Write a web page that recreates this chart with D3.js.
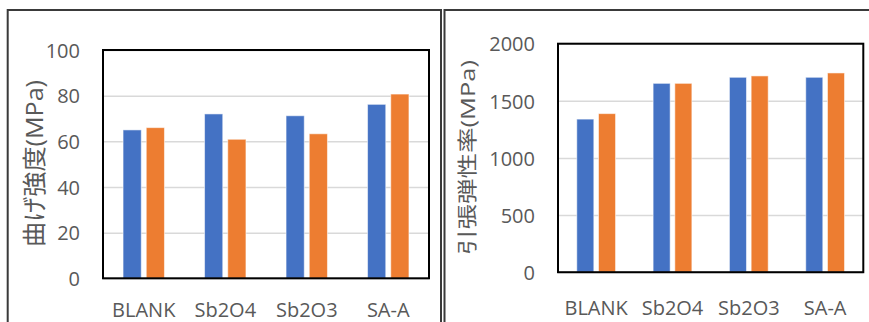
<!DOCTYPE html>
<html>
<head>
<meta charset="utf-8">
<script src="https://cdn.jsdelivr.net/npm/d3@7"></script>
<style>
  html, body { margin: 0; padding: 0; background: #fff; }
  svg { display: block; }
  text { font-family: "Open Sans", "Noto Sans CJK JP", sans-serif; fill: #595959; }
</style>
</head>
<body>
<script>
// Sample names shared by both panels
const categories = ["BLANK", "Sb2O4", "Sb2O3", "SA-A"];
const seriesNames = ["s1", "s2"];

// Flexural strength (MPa)
const flexuralA = [65, 72, 71.2, 76.2];
const flexuralB = [66, 60.9, 63.3, 80.7];
const flexuralTicks = [0, 20, 40, 60, 80, 100];
const flexuralTitle = "曲げ強度(MPa)";

// Tensile modulus (MPa)
const modulusA = [1340, 1653, 1706, 1706];
const modulusB = [1388, 1653, 1718, 1744];
const modulusTicks = [0, 500, 1000, 1500, 2000];
const modulusTitle = "引張弾性率(MPa)";

const colors = ["#4472C4", "#ED7D31"];

const W = 869, H = 322;
const svg = d3.select("body").append("svg").attr("width", W).attr("height", H);

// Outer chart frames
svg.append("rect").attr("x", 7.7).attr("y", 10).attr("width", 433.3).attr("height", 340)
  .attr("fill", "none").attr("stroke", "#3a3a3a").attr("stroke-width", 2);
svg.append("rect").attr("x", 444.5).attr("y", 10).attr("width", 440).attr("height", 340)
  .attr("fill", "none").attr("stroke", "#3a3a3a").attr("stroke-width", 2);

function panel(cfg) {
  const g = svg.append("g");
  const x = d3.scaleBand().domain(categories).range([cfg.left, cfg.right])
    .paddingInner(0.492).paddingOuter(0.246);
  const xs = d3.scaleBand().domain(seriesNames).range([0, x.bandwidth()]).paddingInner(0.215);
  const y = d3.scaleLinear().domain([0, cfg.max]).range([cfg.bottom, cfg.top]);

  // gridlines
  const grid = d3.axisLeft(y).tickValues(cfg.ticks).tickSize(-(cfg.right - cfg.left)).tickFormat("");
  g.append("g").attr("transform", `translate(${cfg.left},0)`).call(grid)
    .call(s => s.select(".domain").remove())
    .call(s => s.selectAll("line").attr("stroke", "#d9d9d9").attr("stroke-width", 1.5));

  // tick labels
  const yAxis = d3.axisLeft(y).tickValues(cfg.ticks).tickFormat(d3.format("d"))
    .tickSize(0).tickPadding(0);
  g.append("g").attr("transform", `translate(${cfg.labelX},0)`).call(yAxis)
    .call(s => s.select(".domain").remove())
    .call(s => s.selectAll("text").attr("font-size", 20).attr("fill", "#595959")
      .attr("font-family", "Open Sans, sans-serif").attr("dy", "0.36em"));

  // bars
  const data = categories.map((c, i) => ({ c, vals: [cfg.a[i], cfg.b[i]] }));
  const grp = g.selectAll(".grp").data(data).join("g")
    .attr("transform", d => `translate(${x(d.c)},0)`);
  grp.selectAll("rect").data(d => d.vals.map((v, k) => ({ v, k }))).join("rect")
    .attr("x", d => xs(seriesNames[d.k]))
    .attr("width", xs.bandwidth())
    .attr("y", d => y(d.v))
    .attr("height", d => y(0) - y(d.v))
    .attr("fill", d => colors[d.k])
    .attr("stroke", "rgba(255,255,255,0.55)").attr("stroke-width", 1);

  // plot area border
  g.append("rect").attr("x", cfg.left).attr("y", cfg.top)
    .attr("width", cfg.right - cfg.left).attr("height", cfg.bottom - cfg.top)
    .attr("fill", "none").attr("stroke", "#000").attr("stroke-width", 2);

  // category labels
  const xAxis = d3.axisBottom(x).tickSize(0).tickPadding(0);
  g.append("g").attr("transform", `translate(0,${cfg.xLabelY})`).call(xAxis)
    .call(s => s.select(".domain").remove())
    .call(s => s.selectAll("text").attr("font-size", 20).attr("fill", "#595959")
      .attr("font-family", "Open Sans, sans-serif").attr("dy", 0));

  // axis title
  g.append("text")
    .attr("transform", `translate(${cfg.titleX},${cfg.titleY}) rotate(-90)`)
    .attr("text-anchor", "middle").attr("dominant-baseline", "central")
    .attr("font-size", cfg.titleSize)
    .attr("textLength", cfg.titleLen).attr("lengthAdjust", "spacingAndGlyphs")
    .text(cfg.title);
}

panel({
  left: 103, right: 429, top: 50, bottom: 278.3, max: 100,
  ticks: flexuralTicks, a: flexuralA, b: flexuralB,
  labelX: 80, xLabelY: 316.5, title: flexuralTitle,
  titleX: 33, titleY: 163.5, titleSize: 24, titleLen: 167
});

panel({
  left: 558, right: 863.3, top: 43.7, bottom: 272.2, max: 2000,
  ticks: modulusTicks, a: modulusA, b: modulusB,
  labelX: 535, xLabelY: 314.5, title: modulusTitle,
  titleX: 467, titleY: 157.5, titleSize: 20, titleLen: 195
});
</script>
</body>
</html>
